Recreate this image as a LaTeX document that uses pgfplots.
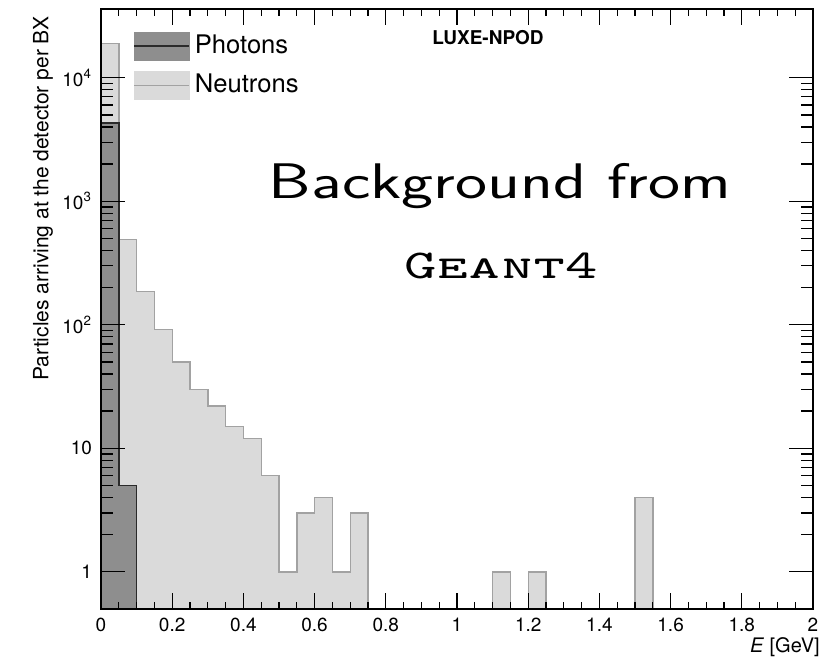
\documentclass[border=0pt]{standalone}
\usepackage{pgfplots}
\pgfplotsset{compat=1.18}
\usepackage{fontspec}
\setmainfont{TeX Gyre Heros}
\definecolor{nfill}{HTML}{DADADA}
\definecolor{nline}{HTML}{A2A2A2}
\definecolor{pfill}{HTML}{8E8E8E}
\definecolor{pline}{HTML}{2A2A2A}
\begin{document}
\begin{tikzpicture}
\begin{axis}[scale only axis, width=356pt, height=300pt,
  at={(0,0)}, anchor=south west,
  xmin=0, xmax=2, ymode=log, ymin=0.5, ymax=36000,
  clip=false,
  axis line style={line width=1pt},
  tick align=inside,
  tick style={line width=0.65pt, black},
  log origin y=infty,
  axis on top,
  major tick length=8pt, minor tick length=3.7pt,
  xtick={0,0.2,...,2.01}, minor x tick num=3,
  xticklabels={0,0.2,0.4,0.6,0.8,1,1.2,1.4,1.6,1.8,2},
  ytick={1,10,100,1000,10000},
  yticklabels={1,10,10\textsuperscript{2},10\textsuperscript{3},10\textsuperscript{4}},
  /pgf/number format/assume math mode=true,
  tick label style={font=\fontsize{9.5}{11}\selectfont},
  xticklabel style={yshift=-1pt},
  yticklabel style={xshift=-1pt},
  xlabel={\textit{E}\ [GeV]},
  xlabel style={at={(rel axis cs:0.9017,-0.0717)}, anchor=base west, font=\fontsize{10}{12}\selectfont},
  ylabel={Particles arriving at the detector per BX},
  ylabel style={at={(rel axis cs:-0.074,1)}, anchor=base east, font=\fontsize{10.5}{12}\selectfont},
  legend style={at={(rel axis cs:0.045,0.967)}, anchor=north west, draw=none, fill=none,
    font=\fontsize{12.8}{14}\selectfont, inner sep=0pt, row sep=2.5pt,
    nodes={inner sep=2.5pt, text height=9.5pt, text depth=2.5pt}},
  legend cell align=left,
]
% Neutrons
\addplot[const plot mark left, fill=nfill, draw=nline, line width=0.7pt, forget plot] coordinates {
 (0,19000) (0.05,490) (0.1,185) (0.15,92) (0.2,50) (0.25,30) (0.3,22) (0.35,15)
 (0.4,12) (0.45,6) (0.5,1) (0.55,3) (0.6,4) (0.65,1) (0.7,3) (0.75,3)} \closedcycle;
\addplot[const plot mark left, fill=nfill, draw=nline, line width=0.7pt, forget plot] coordinates {(1.1,1) (1.15,1)} \closedcycle;
\addplot[const plot mark left, fill=nfill, draw=nline, line width=0.7pt, forget plot] coordinates {(1.2,1) (1.25,1)} \closedcycle;
\addplot[const plot mark left, fill=nfill, draw=nline, line width=0.7pt, forget plot] coordinates {(1.5,4) (1.55,4)} \closedcycle;
% Photons
\addplot[const plot mark left, fill=pfill, draw=pline, line width=0.7pt, forget plot] coordinates {(0,4300) (0.05,5) (0.1,5)} \closedcycle;
\addlegendimage{legend image code/.code={\fill[pfill] (0pt,-7pt) rectangle (27.5pt,7pt); \draw[pline, line width=0.7pt] (0pt,0pt) -- (27.5pt,0pt);}}
\addlegendentry{Photons}
\addlegendimage{legend image code/.code={\fill[nfill] (0pt,-7pt) rectangle (27.5pt,7pt); \draw[nline, line width=0.7pt] (0pt,0pt) -- (27.5pt,0pt);}}
\addlegendentry{Neutrons}
\node[anchor=base, font=\bfseries\fontsize{9.5}{11}\selectfont] at (rel axis cs:0.5435,0.94) {LUXE-NPOD};
\node[anchor=base, xscale=1.36, font=\sffamily\fontsize{25}{30}\selectfont] at (rel axis cs:0.5604,0.685) {Background from};
\node[anchor=base, xscale=1.5, font=\ttfamily\fontsize{20.5}{24}\selectfont] at (rel axis cs:0.5618,0.5513) {\scshape Geant4};
\end{axis}
% overlay axis carrying the longer y ticks
\begin{axis}[scale only axis, width=356pt, height=300pt,
  at={(0,0)}, anchor=south west,
  xmin=0, xmax=2, ymode=log, ymin=0.5, ymax=36000,
  axis line style={line width=1pt},
  tick align=inside,
  tick style={line width=0.65pt, black},
  xtick=\empty,
  ytick={1,10,100,1000,10000},
  yticklabels={},
  major tick length=12pt, minor tick length=6pt,
]
\end{axis}
\pgfresetboundingbox
\path (-50.5pt,-25pt) rectangle (366.5pt,304.5pt);
\end{tikzpicture}
\end{document}
